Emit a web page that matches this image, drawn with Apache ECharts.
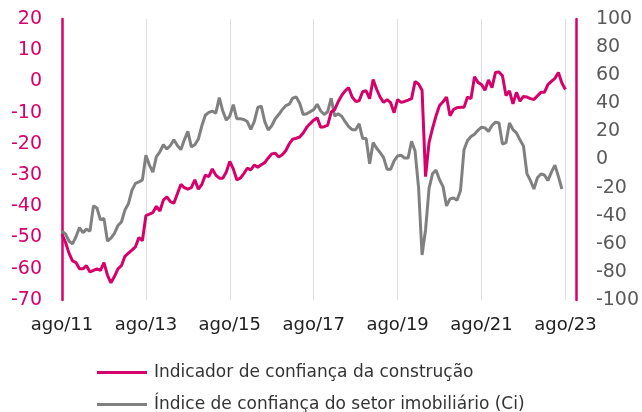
<!DOCTYPE html>
<html>
<head>
<meta charset="utf-8">
<script src="https://cdn.jsdelivr.net/npm/echarts@6/dist/echarts.min.js"></script>
<style>
  html, body { margin: 0; padding: 0; background: #fff; }
  #chart { width: 642px; height: 412px; }
</style>
</head>
<body>
<div id="chart"></div>
<script>
// meses de ago/11 a nov/23 (eixo vai um pouco além do último dado)
const monthNames = ['jan', 'fev', 'mar', 'abr', 'mai', 'jun', 'jul', 'ago', 'set', 'out', 'nov', 'dez'];
const months = [];
for (let y = 2011, m = 7; y < 2023 || (y === 2023 && m <= 10); m++) {
  if (m > 11) { m = 0; y++; }
  months.push(monthNames[m] + '/' + String(y).slice(2));
}

// Indicador de confiança da construção (eixo esquerdo)
const construcao = [
  -49, -51.5, -55, -57.5, -58, -60, -60, -59, -61, -60.5, -60, -60.5,
  -58, -62, -64.5, -62.5, -60, -59, -56, -55, -54, -53, -50, -51,
  -43, -42.5, -42, -40, -41.5, -38, -37, -38.5, -39, -36, -33, -34,
  -34.5, -34, -31.5, -34.5, -33, -30, -30.5, -28, -30, -31, -31, -29,
  -25.6, -28, -31.5, -31, -29.5, -27.8, -28.3, -26.8, -27.5, -26.7, -26, -24.5,
  -23.2, -23, -24.2, -23.5, -22.2, -20, -18.5, -18.2, -17.8, -16.5, -14.7, -13.5,
  -12.4, -11.6, -14.7, -14.5, -14, -9.8, -9, -6.5, -4.5, -3, -2, -5,
  -6.4, -6.2, -3.3, -3, -5.5, 0.6, -2.5, -5, -6.7, -5.8, -6.8, -10,
  -5.8, -6.7, -6.4, -6, -5.5, 0, -0.8, -2.8, -30.5, -19.5, -15, -11,
  -7.7, -6.5, -5, -11, -9, -8.4, -8.3, -8.3, -5, -5.5, 1.5, -0.3,
  -1, -2.8, 0.5, -2, 2.9, 3, 1.8, -4.5, -3, -7.2, -3.5, -6.3,
  -4.8, -5, -5.5, -5.8, -4.6, -3.5, -3.5, -1, 0, 1, 2.9, -0.5,
  -2.6
];

// Índice de confiança do setor imobiliário (eixo direito)
const imobiliario = [
  -51, -53, -58, -60, -55, -48.5, -52, -49.6, -51, -33, -34.5, -43,
  -42, -58, -56, -52.5, -47, -44.5, -36, -31.5, -22, -17, -16, -14.5,
  3, -4, -9, 2, 5.5, 10.5, 7.5, 10, 14, 10, 7, 14,
  20, 9, 10.5, 14.5, 24, 31.5, 33.5, 34.4, 33, 44, 34.5, 28,
  31, 39, 29, 29, 28.5, 27, 21.5, 27, 37, 38, 27, 21,
  24, 29, 32, 35.5, 38.3, 39.4, 43.7, 44.5, 40, 32, 32.5, 34,
  35.5, 39.3, 34.5, 32, 34, 43.6, 31, 32.5, 30.8, 26.9, 23.4, 21.2,
  21.2, 25.4, 15, 15, -3, 12, 8, 5, 1.3, -7, -7, -1,
  2.5, 3, 1, 1, 13, 6, -20, -68, -50, -20.5, -10, -7.6,
  -14.4, -19.3, -33, -28, -27.4, -29, -22, 7, 13.5, 16.3, 18, 20.8,
  23, 22.5, 20, 24.2, 26.6, 26, 11, 12, 26, 21.3, 19, 14,
  9.6, -10, -15, -21, -13, -10.3, -11, -15, -9, -4, -12, -21
];

const nameConstrucao = 'Indicador de confiança da construção';
const nameImobiliario = 'Índice de confiança do setor imobiliário (Ci)';

const magenta = '#d6006a';
const grey = '#808080';
const everyTwoYears = (idx) => idx % 24 === 0;

const legendBase = {
  left: 97,
  itemWidth: 50,
  itemHeight: 3,
  icon: 'rect',
  padding: 0,
  textStyle: {
    fontFamily: 'DejaVu Sans',
    fontSize: 17,
    color: '#333',
    padding: [0, 0, 0, 2]
  }
};

const options = {
  animation: false,
  grid: {
    left: 62,
    right: 65.5,
    top: 19,
    bottom: 112
  },
  legend: [
    Object.assign({}, legendBase, { top: 364, data: [nameConstrucao] }),
    Object.assign({}, legendBase, { top: 396, data: [nameImobiliario] })
  ],
  xAxis: {
    type: 'category',
    data: months,
    boundaryGap: false,
    axisLine: { show: false },
    axisTick: { show: false },
    axisLabel: {
      interval: everyTwoYears,
      margin: 16,
      fontFamily: 'DejaVu Sans',
      fontSize: 18,
      color: '#222'
    },
    splitLine: {
      show: true,
      interval: everyTwoYears,
      lineStyle: { color: '#dcdcdc', width: 1 }
    }
  },
  yAxis: [
    {
      type: 'value',
      min: -70,
      max: 20,
      interval: 10,
      position: 'left',
      axisLine: { show: true, lineStyle: { color: magenta, width: 2.5 } },
      axisTick: { show: false },
      splitLine: { show: false },
      axisLabel: {
        margin: 20,
        fontFamily: 'DejaVu Sans',
        fontSize: 19,
        color: magenta
      }
    },
    {
      type: 'value',
      min: -100,
      max: 100,
      interval: 20,
      position: 'right',
      axisLine: { show: true, lineStyle: { color: magenta, width: 2.5 } },
      axisTick: { show: false },
      splitLine: { show: false },
      axisLabel: {
        margin: 20,
        fontFamily: 'DejaVu Sans',
        fontSize: 19,
        color: '#5a5a5a'
      }
    }
  ],
  series: [
    {
      name: nameConstrucao,
      type: 'line',
      yAxisIndex: 0,
      data: construcao,
      showSymbol: false,
      z: 3,
      lineStyle: { color: magenta, width: 3 },
      itemStyle: { color: magenta }
    },
    {
      name: nameImobiliario,
      type: 'line',
      yAxisIndex: 1,
      data: imobiliario,
      showSymbol: false,
      z: 2,
      lineStyle: { color: grey, width: 3 },
      itemStyle: { color: grey }
    }
  ]
};

const chart = echarts.init(document.getElementById('chart'));
chart.setOption(options);
window.addEventListener('resize', () => {
  chart.resize();
});
</script>
</body>
</html>
